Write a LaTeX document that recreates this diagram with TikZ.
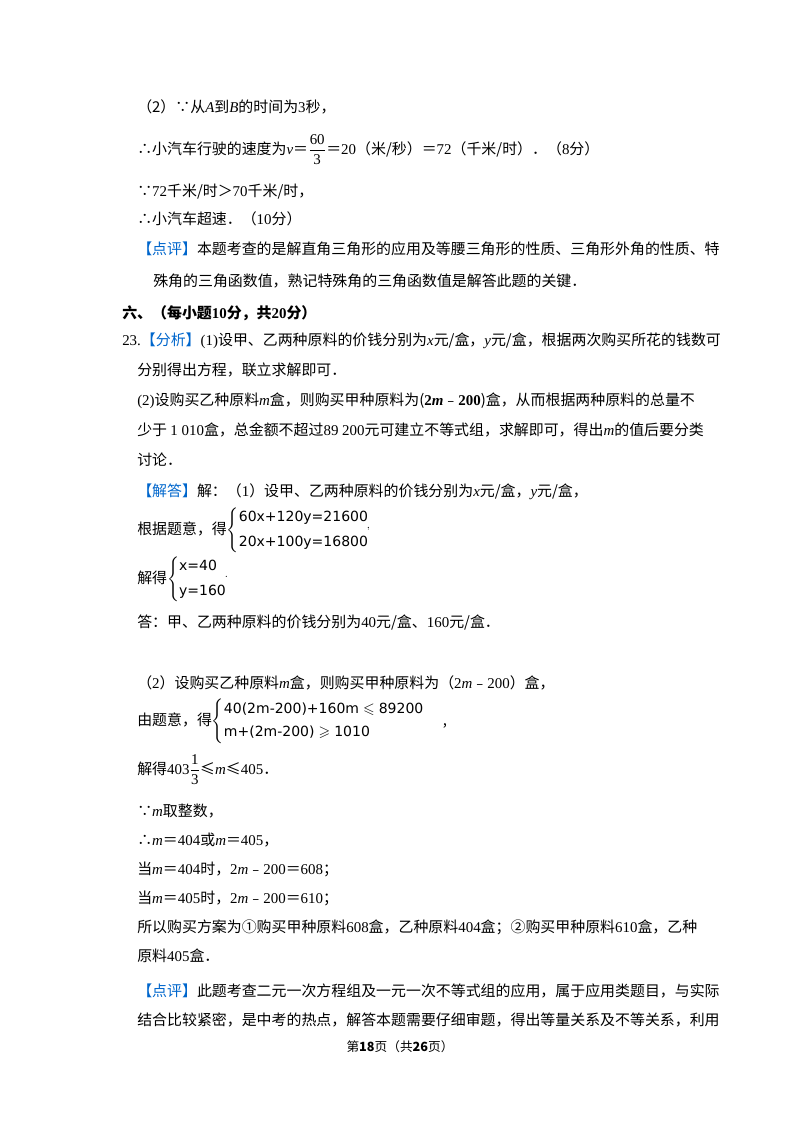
\documentclass[tikz,border=0pt]{standalone}
\usepackage{amsmath,amssymb}
\usepackage{fontspec}
\setmainfont{Noto Sans CJK SC}
\newfontfamily\lat{Liberation Serif}
\newfontfamily\eqf{DejaVu Sans}
\newcommand{\iv}[1]{{\lat\itshape #1}}
\newcommand{\nm}[1]{{\lat #1}}
\newcommand{\eq}[1]{\text{\eqf\fontsize{10.5}{12}\selectfont #1}}
\definecolor{tagblue}{RGB}{0,102,204}
\newcommand{\tg}[1]{\textcolor{tagblue}{#1}}
\begin{document}
\begin{tikzpicture}[x=0.75pt,y=-0.75pt,
  ln/.style={anchor=base west,inner sep=0pt,font=\fontsize{11.2}{13}\selectfont}]
\useasboundingbox (0,0) rectangle (800,1132);
\node[ln] (l1) at (137,112) {（2）∵从\iv{A}到\iv{B}的时间为\nm{3}秒，};
\node[ln] (l2) at (137,154) {∴小汽车行驶的速度为\iv{v}＝$\dfrac{\text{\nm{60}}}{\text{\nm{3}}}$＝\nm{20}（米/秒）＝\nm{72}（千米/时）．（\nm{8}分）};
\node[ln] (l3) at (137,196) {∵\nm{72}千米/时＞\nm{70}千米/时，};
\node[ln] (l4) at (137,224) {∴小汽车超速．（\nm{10}分）};
\node[ln] (l5) at (137,254) {\tg{【点评】}本题考查的是解直角三角形的应用及等腰三角形的性质、三角形外角的性质、特};
\node[ln] (l6) at (153,286) {殊角的三角函数值，熟记特殊角的三角函数值是解答此题的关键．};
\node[ln] (l7) at (122,318) {\textbf{六、（每小题\nm{10}分，共\nm{20}分）}};
\node[ln] (l8) at (122,345) {\nm{23.}\tg{【分析】}\nm{(1)}设甲、乙两种原料的价钱分别为\iv{x}元/盒，\iv{y}元/盒，根据两次购买所花的钱数可};
\node[ln] (l9) at (137,375) {分别得出方程，联立求解即可．};
\node[ln] (l10) at (137,405) {\nm{(2)}设购买乙种原料\iv{m}盒，则购买甲种原料为(\nm{\textbf{2}}\iv{\textbf{m}}﹣\nm{\textbf{200}})盒，从而根据两种原料的总量不};
\node[ln] (l11) at (137,435) {少于 \nm{1 010}盒，总金额不超过\nm{89 200}元可建立不等式组，求解即可，得出\iv{m}的值后要分类};
\node[ln] (l12) at (137,465) {讨论．};
\node[ln] (l13) at (137,496) {\tg{【解答】}解：（\nm{1}）设甲、乙两种原料的价钱分别为\iv{x}元/盒，\iv{y}元/盒，};
\node[ln] (l14) at (137,534) {根据题意，得$\left\{\begin{array}{@{}l@{}}\eq{60x+120y=21600}\\[6pt]\eq{20x+100y=16800}\end{array}\right.$\hspace{-2pt}$^{,}$};
\node[ln] (l15) at (137,583) {解得$\left\{\begin{array}{@{}l@{}}\eq{x=40}\\[6pt]\eq{y=160}\end{array}\right.$\hspace{-2pt}$^{.}$};
\node[ln] (l16) at (137,627) {答：甲、乙两种原料的价钱分别为\nm{40}元/盒、\nm{160}元/盒．};
\node[ln] (l17) at (137,688) {（\nm{2}）设购买乙种原料\iv{m}盒，则购买甲种原料为（\nm{2}\iv{m}﹣\nm{200}）盒，};
\node[ln] (l18) at (137,725) {由题意，得$\left\{\begin{array}{@{}l@{}}\eq{40(2m-200)+160m}\leqslant\eq{89200}\\[4pt]\eq{m+(2m-200)}\geqslant\eq{1010}\end{array}\right.$\hspace{1.2em},};
\node[ln] (l19) at (137,774) {解得\nm{403}$\dfrac{\text{\nm{1}}}{\text{\nm{3}}}$≤\iv{m}≤\nm{405}．};
\node[ln] (l20) at (137,816) {∵\iv{m}取整数，};
\node[ln] (l21) at (137,845) {∴\iv{m}＝\nm{404}或\iv{m}＝\nm{405}，};
\node[ln] (l22) at (137,874) {当\iv{m}＝\nm{404}时，\nm{2}\iv{m}﹣\nm{200}＝\nm{608}；};
\node[ln] (l23) at (137,903) {当\iv{m}＝\nm{405}时，\nm{2}\iv{m}﹣\nm{200}＝\nm{610}；};
\node[ln] (l24) at (137,932) {所以购买方案为①购买甲种原料\nm{608}盒，乙种原料\nm{404}盒；②购买甲种原料\nm{610}盒，乙种};
\node[ln] (l25) at (137,961) {原料\nm{405}盒．};
\node[ln] (l26) at (137,996) {\tg{【点评】}此题考查二元一次方程组及一元一次不等式组的应用，属于应用类题目，与实际};
\node[ln] (l27) at (137,1025) {结合比较紧密，是中考的热点，解答本题需要仔细审题，得出等量关系及不等关系，利用};
\node[anchor=base,inner sep=0pt,font=\fontsize{9.5}{11}\selectfont] (pg) at (400,1051) {第\textbf{18}页（共\textbf{26}页）};
\end{tikzpicture}
\end{document}
